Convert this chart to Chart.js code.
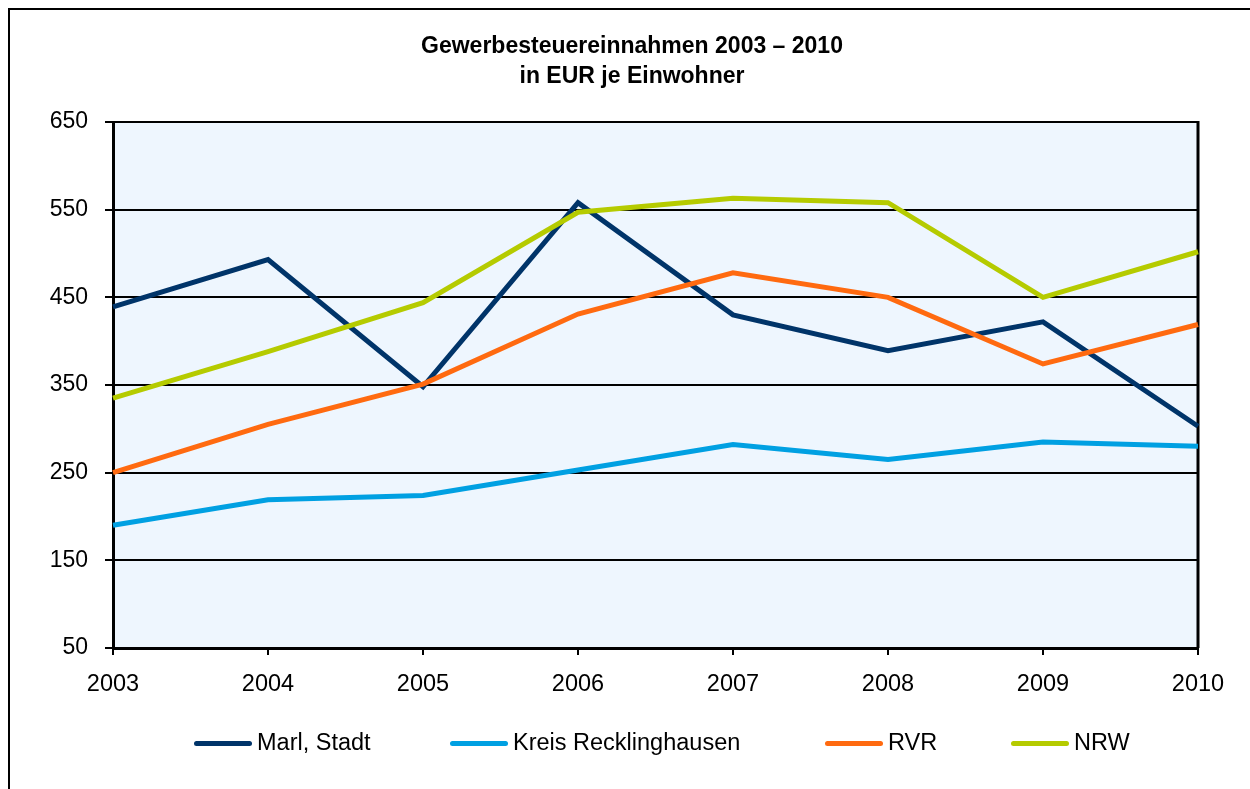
<!DOCTYPE html>
<html>
<head>
<meta charset="utf-8">
<script src="https://cdn.jsdelivr.net/npm/chart.js@4"></script>
<style>
  body { margin: 0; background: #fff; }
  #wrap { position: relative; width: 1250px; height: 789px; }
  .legend-item { position: absolute; top: 729px; font: 23.5px "Liberation Sans", Arial, sans-serif; color: #000; white-space: nowrap; }
  .legend-item span.swatch { position: absolute; top: 12px; height: 5px; width: 58px; border-radius: 3px; }
</style>
</head>
<body>
<div id="wrap">
  <canvas id="chart" width="1250" height="789"></canvas>
  <div id="legend"></div>
</div>
<script>
const years = ['2003', '2004', '2005', '2006', '2007', '2008', '2009', '2010'];
const marl = [439, 493, 348, 558, 430, 389, 422, 303];
const kreis = [190, 219, 224, 253, 282, 265, 285, 280];
const rvr = [250, 305, 351, 431, 478, 450, 374, 419];
const nrw = [335, 388, 444, 547, 563, 558, 450, 502];

const seriesNames = ['Marl, Stadt', 'Kreis Recklinghausen', 'RVR', 'NRW'];
const seriesColors = ['#003469', '#00A0E2', '#FF6A10', '#B5CB00'];
const titleLines = ['Gewerbesteuereinnahmen 2003 \u2013 2010', 'in EUR je Einwohner'];
const legendX = [194, 450, 825, 1011];

const FONT = '"Liberation Sans", Arial, sans-serif';

// plot background, right border, outer frame and title
const framePlugin = {
  id: 'frame',
  beforeDraw(chart) {
    const { ctx, chartArea: a } = chart;
    ctx.save();
    ctx.fillStyle = '#EEF6FE';
    ctx.fillRect(a.left, a.top, a.right - a.left, a.bottom - a.top);
    ctx.strokeStyle = '#000';
    ctx.lineWidth = 2;
    ctx.beginPath();
    ctx.moveTo(9, 789);
    ctx.lineTo(9, 9);
    ctx.lineTo(1250, 9);
    ctx.stroke();

    ctx.fillStyle = '#000';
    ctx.font = 'bold 23px ' + FONT;
    ctx.textAlign = 'center';
    ctx.textBaseline = 'middle';
    titleLines.forEach((t, i) => ctx.fillText(t, 632, 47 + i * 30));
    ctx.restore();
  },
  beforeDatasetsDraw(chart) {
    const { ctx, chartArea: a } = chart;
    ctx.save();
    ctx.strokeStyle = '#000';
    ctx.lineWidth = 3;
    ctx.beginPath();
    ctx.moveTo(a.right, a.top - 1);
    ctx.lineTo(a.right, a.bottom);
    ctx.stroke();
    ctx.restore();
  }
};

const allData = [marl, kreis, rvr, nrw];

new Chart(document.getElementById('chart'), {
  type: 'line',
  data: {
    labels: years,
    datasets: allData.map((d, i) => ({
      label: seriesNames[i],
      data: d,
      borderColor: seriesColors[i],
      backgroundColor: seriesColors[i],
      borderWidth: 5,
      pointRadius: 0,
      tension: 0,
      order: 4 - i
    }))
  },
  options: {
    responsive: false,
    animation: false,
    layout: { padding: { left: 20, right: 52, top: 122, bottom: 81 } },
    plugins: {
      legend: { display: false },
      tooltip: { enabled: false },
      title: { display: false }
    },
    scales: {
      x: {
        offset: false,
        grid: { drawOnChartArea: false, color: '#000', lineWidth: 2, tickLength: 7 },
        border: { color: '#000', width: 3 },
        ticks: { color: '#000', font: { family: FONT, size: 23.5 }, padding: 15, maxRotation: 0 },
        afterFit(scale) { scale.height = 60; }
      },
      y: {
        min: 50,
        max: 650,
        grid: { color: '#000', lineWidth: 2, tickLength: 8 },
        border: { color: '#000', width: 3 },
        ticks: { stepSize: 100, color: '#000', font: { family: FONT, size: 23 }, padding: 17 },
        afterFit(scale) { scale.width = 93; }
      }
    }
  },
  plugins: [framePlugin]
});

const legend = document.getElementById('legend');
seriesNames.forEach((name, i) => {
  const item = document.createElement('div');
  item.className = 'legend-item';
  item.style.left = legendX[i] + 'px';
  item.innerHTML = '<span class="swatch" style="background:' + seriesColors[i] + '"></span>' +
    '<span style="padding-left:63px">' + name + '</span>';
  legend.appendChild(item);
});
</script>
</body>
</html>
